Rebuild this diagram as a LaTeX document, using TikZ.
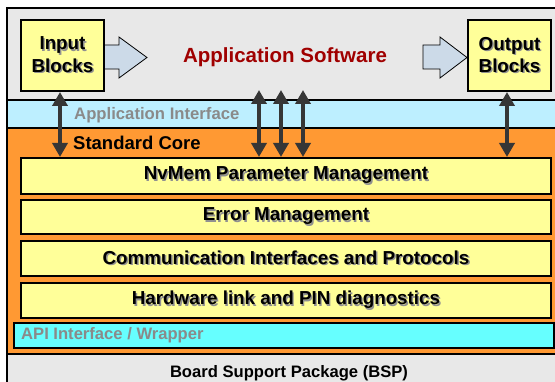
\documentclass[tikz,border=0pt]{standalone}
\usepackage{fontspec}
\setmainfont{Liberation Sans}
\usetikzlibrary{arrows.meta}
\definecolor{bggray}{HTML}{E8E8E8}
\definecolor{ifblue}{HTML}{BDEFFF}
\definecolor{coreorange}{HTML}{FF9933}
\definecolor{boxyellow}{HTML}{FFFF99}
\definecolor{apicyan}{HTML}{66FFFF}
\definecolor{appred}{HTML}{A00000}
\definecolor{ifgray}{HTML}{8A8A8A}
\definecolor{shadowgray}{HTML}{909090}
\definecolor{blockfill}{HTML}{CCDAE8}
\definecolor{arrowdark}{HTML}{363636}
\newcommand\shd[1]{\makebox[0pt][l]{\hspace{1.4pt}\raisebox{-1.4pt}{\textcolor{shadowgray}{#1}}}#1}
\tikzset{
  layerline/.style={line width=2pt,black},
  ybox/.style={draw=black,line width=2pt,fill=boxyellow,anchor=north west,inner sep=0pt,
    font=\fontsize{18.8}{22.5}\selectfont\bfseries},
  iobox/.style={ybox,align=center},
  blockarrow/.style={draw=black,line width=0.8pt,fill=blockfill,line join=miter},
  dblarrow/.style={draw=arrowdark,line width=4.5pt,
    {Triangle[width=15pt 0 0,length=14pt 0 0]}-{Triangle[width=15pt 0 0,length=14pt 0 0]}},
  lbl/.style={anchor=west,inner sep=0pt},
}
\begin{document}
\begin{tikzpicture}[x=1pt,y=-1pt]
\useasboundingbox (0,0) rectangle (555,382);
% layers
\fill[white] (0,0) rectangle (555,382);
\fill[bggray] (7,8) rectangle (560,100);
\fill[ifblue] (7,100) rectangle (560,128);
\fill[coreorange] (7,128) rectangle (560,354);
\fill[bggray] (7,354) rectangle (560,390);
\draw[layerline] (560,8) -- (7,8) -- (7,390);
\draw[layerline] (7,100) -- (560,100);
\draw[layerline] (7,128) -- (560,128);
\draw[layerline] (7,354) -- (560,354);
% input / output blocks
\node[iobox,minimum width=83pt,minimum height=71pt] (in) at (20,19) {\shd{Input}\\\shd{Blocks}};
\node[iobox,minimum width=83pt,minimum height=71pt] (out) at (467,19) {\shd{Output}\\\shd{Blocks}};
% block arrows
\draw[blockarrow] (in.east |- 0,45) -- (119,45) -- (119,37) -- (147,57.5) -- (119,78) -- (119,69) -- (in.east |- 0,69);
\draw[blockarrow] (423,45) -- (440,45) -- (440,37) -- (out.west |- 0,57.5) -- (440,78) -- (440,69) -- (423,69) -- cycle;
\node[inner sep=0pt,text=appred,font=\fontsize{20.5}{24}\selectfont\bfseries] (app) at (285,57) {Application Software};
% labels
\node[lbl,text=ifgray,font=\fontsize{16.7}{20}\selectfont\bfseries] (apiif) at (74,115) {Application Interface};
\node[lbl,font=\fontsize{18.5}{21}\selectfont\bfseries] (core) at (73,143) {Standard Core};
% core boxes
\node[ybox,minimum width=530pt,minimum height=36pt] (nv) at (20,157) {\shd{NvMem Parameter Management}};
\node[ybox,minimum width=530pt,minimum height=34pt] (err) at (20,199) {\shd{Error Management}};
\node[ybox,minimum width=530pt,minimum height=35pt] (comm) at (20,240) {\shd{Communication Interfaces and Protocols}};
\node[ybox,minimum width=530pt,minimum height=35pt] (hw) at (20,282) {\shd{Hardware link and PIN diagnostics}};
\node[draw=black,line width=2pt,fill=apicyan,anchor=north west,minimum width=540pt,minimum height=25pt,inner sep=0pt] (api) at (13,322) {};
\node[lbl,text=ifgray,font=\fontsize{16.6}{20}\selectfont\bfseries] (apitxt) at (21,335) {API Interface / Wrapper};
\node[inner sep=0pt,font=\fontsize{16.6}{20}\selectfont\bfseries] (bsp) at (289,373) {Board Support Package (BSP)};
% double arrows
\coordinate (a1) at (259,90);
\coordinate (a2) at (281,90);
\coordinate (a3) at (303,90);
\draw[dblarrow] (in.south -| 60,0) -- (nv.north -| 60,0);
\draw[dblarrow] (a1) -- (nv.north -| a1);
\draw[dblarrow] (a2) -- (nv.north -| a2);
\draw[dblarrow] (a3) -- (nv.north -| a3);
\draw[dblarrow] (out.south -| 507,0) -- (nv.north -| 507,0);
\end{tikzpicture}
\end{document}
